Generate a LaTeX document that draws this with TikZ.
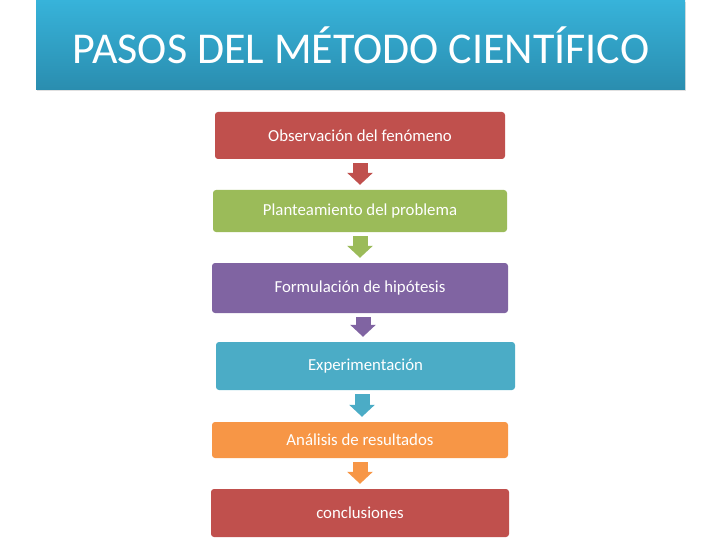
\documentclass[tikz,border=0pt]{standalone}
\usepackage{fontspec}
\setmainfont{Carlito}
\usetikzlibrary{arrows.meta,positioning}
\definecolor{rojo}{HTML}{C0504D}
\definecolor{verde}{HTML}{9BBB59}
\definecolor{morado}{HTML}{8064A2}
\definecolor{aqua}{HTML}{4BACC6}
\definecolor{naranja}{HTML}{F79646}
\definecolor{tituloarriba}{HTML}{37B3DA}
\definecolor{tituloabajo}{HTML}{2A8DAF}
\tikzset{paso/.style={rectangle,rounded corners=3pt,text=white,font=\fontsize{16.8}{20}\selectfont,inner sep=0pt}}
\tikzset{flecha/.style={line width=15pt,shorten <=4pt,shorten >=5pt,-{Triangle[width=25pt,length=12pt]}}}

\begin{document}
\begin{tikzpicture}[x=1pt,y=-1pt]
        \useasboundingbox (0,0) rectangle (720,540);
        \fill[black!12] (37,2) rectangle (686,91);
        \shade[top color=tituloarriba,bottom color=tituloabajo] (36,0) rectangle (685,90);
        \node[text=white,font=\fontsize{44}{50}\selectfont] (titulo) at (361,45) {PASOS DEL MÉTODO CIENTÍFICO};

        \node[paso,fill=rojo,minimum width=290pt,minimum height=47pt] (obs) at (360,135.5) {Observación del fenómeno};
        \node[paso,fill=verde,minimum width=294pt,minimum height=42pt] (plan) at (360,211) {Planteamiento del problema};
        \node[paso,fill=morado,minimum width=296pt,minimum height=50pt] (hip) at (360,288) {Formulación de hipótesis};
        \node[paso,fill=aqua,minimum width=299pt,minimum height=48pt] (exp) at (365.5,366) {Experimentación};
        \node[paso,fill=naranja,minimum width=296pt,minimum height=36pt] (ana) at (360,440) {Análisis de resultados};
        \node[paso,fill=rojo,minimum width=298pt,minimum height=48pt] (con) at (360,513) {conclusiones};

        \draw[flecha,rojo] (obs) -- (plan);
        \draw[flecha,verde] (plan) -- (hip);
        \draw[flecha,morado] ([xshift=3pt]hip.south) -- ([xshift=3pt]hip.south |- exp.north);
        \draw[flecha,aqua] ([xshift=-3.5pt]exp.south) -- ([xshift=-3.5pt]exp.south |- ana.north);
        \draw[flecha,naranja] (ana) -- (con);
    \end{tikzpicture}
\end{document}
